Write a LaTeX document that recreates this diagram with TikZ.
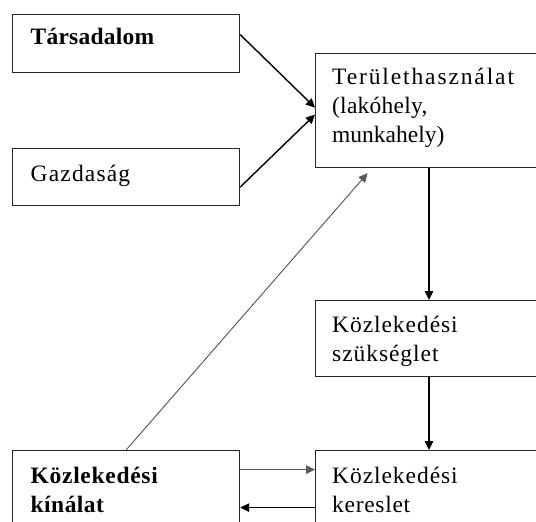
\documentclass[tikz,border=0pt]{standalone}
\usepackage{fontspec}
\setmainfont{Liberation Serif}
\usetikzlibrary{arrows.meta}
\newcommand{\ls}[1]{\addfontfeatures{LetterSpace=#1}}
\begin{document}
\begin{tikzpicture}[x=1pt,y=-1pt,
  box/.style={draw=black!85,line width=1.2pt,rectangle,inner sep=0pt,anchor=north west},
  txt/.style={anchor=base west,inner sep=0pt,font=\fontsize{23.5}{29}\selectfont},
  btxt/.style={txt,font=\fontsize{23.5}{29}\selectfont\bfseries},
  arr/.style={line width=1.4pt,-{Triangle[length=9pt,width=8.5pt]}},
  thinarr/.style={line width=0.9pt,draw=black!65,-{Triangle[length=9pt,width=8.5pt]},fill=black}]
\useasboundingbox (0,0) rectangle (536,522);
\clip (0,0) rectangle (536,522);
\fill[white] (0,0) rectangle (536,522);
\node[box,minimum width=227pt,minimum height=58pt] (tars) at (12,14) {};
\node[box,minimum width=227pt,minimum height=57pt] (gazd) at (12,148) {};
\node[box,minimum width=260pt,minimum height=114pt] (terul) at (315,53) {};
\node[box,minimum width=260pt,minimum height=76pt] (szuk) at (315,300) {};
\node[box,minimum width=260pt,minimum height=90pt] (ker) at (315,450) {};
\node[box,minimum width=227pt,minimum height=90pt] (kin) at (12,450) {};
\node[btxt] (t1) at (30.5,45) {\ls{1}Társadalom};
\node[txt] (t2) at (30.5,181) {\ls{5}Gazdaság};
\node[txt] (t3a) at (332,84) {\ls{8}Területhasználat};
\node[txt] (t3b) at (332,113) {\ls{1}(lakóhely,};
\node[txt] (t3c) at (332,142) {munkahely)};
\node[txt] (t4a) at (332,332) {\ls{4}Közlekedési};
\node[txt] (t4b) at (332,361) {\ls{4}szükséglet};
\node[txt] (t5a) at (332,483) {\ls{4}Közlekedési};
\node[txt] (t5b) at (332,512) {\ls{3}kereslet};
\node[btxt] (t6a) at (30.5,483) {\ls{3}Közlekedési};
\node[btxt] (t6b) at (30.5,512) {\ls{2}kínálat};
\coordinate (vx) at (429,0);
\draw[arr] ([yshift=9pt]tars.east) -- ([yshift=3pt]terul.west);
\draw[arr] ([yshift=-10pt]gazd.east) -- ([yshift=-4pt]terul.west);
\draw[thinarr] (kin.north) -- ([xshift=-78pt,yshift=-5pt]terul.south);
\draw[arr] (terul.south -| vx) -- (szuk.north -| vx);
\draw[arr] (szuk.south -| vx) -- (ker.north -| vx);
\draw[thinarr] ([yshift=26pt]kin.east) -- ([yshift=26pt]ker.west);
\draw[arr] ([yshift=-12pt]ker.west) -- ([yshift=-12pt]kin.east);
\end{tikzpicture}
\end{document}
